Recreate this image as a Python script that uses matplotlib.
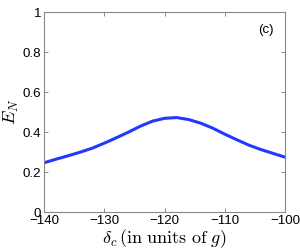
import matplotlib
matplotlib.use("Agg")
import matplotlib.pyplot as plt

plt.rcParams["mathtext.fontset"] = "cm"
plt.rcParams["font.family"] = ["Liberation Sans", "DejaVu Sans"]

detuning = [-140, -138, -136, -134, -132, -130, -128, -126, -124, -122, -120,
            -118, -116, -114, -112, -110, -108, -106, -104, -102, -100]
entanglement = [0.247, 0.265, 0.282, 0.300, 0.320, 0.345, 0.372, 0.400, 0.430,
                0.455, 0.469, 0.473, 0.463, 0.445, 0.420, 0.390, 0.362, 0.335,
                0.313, 0.294, 0.275]
xticks = [-140, -130, -120, -110, -100]
yticks = [0, 0.2, 0.4, 0.6, 0.8, 1]
yticklabels = ["0", "0.2", "0.4", "0.6", "0.8", "1"]

fig = plt.figure(figsize=(3.0, 2.52), dpi=100)
ax = fig.add_axes([0.147, 0.158, 0.803, 0.794])

ax.plot(detuning, entanglement, color="#2238ff", lw=2.2,
        solid_capstyle="round", solid_joinstyle="round")

ax.set_xlim(-140, -100)
ax.set_ylim(0, 1)
ax.set_xticks(xticks)
ax.set_xticklabels([f"\u2212{abs(t)}" for t in xticks])
ax.set_yticks(yticks)
ax.set_yticklabels(yticklabels)
ax.tick_params(direction="in", top=True, right=True, length=3, width=0.6,
               color="#777777", labelsize=9.6, pad=2)
for s in ax.spines.values():
    s.set_color("#888888")
    s.set_linewidth(0.8)

ax.set_xlabel(r"$\delta_c\,(\mathrm{in\ units\ of}\ g)$", fontsize=13, labelpad=0)
ax.set_ylabel(r"$E_N$", fontsize=13, labelpad=1)
ax.text(-104.5, 0.895, "(c)", fontsize=9.5)

fig.savefig("out.png", dpi=100)
